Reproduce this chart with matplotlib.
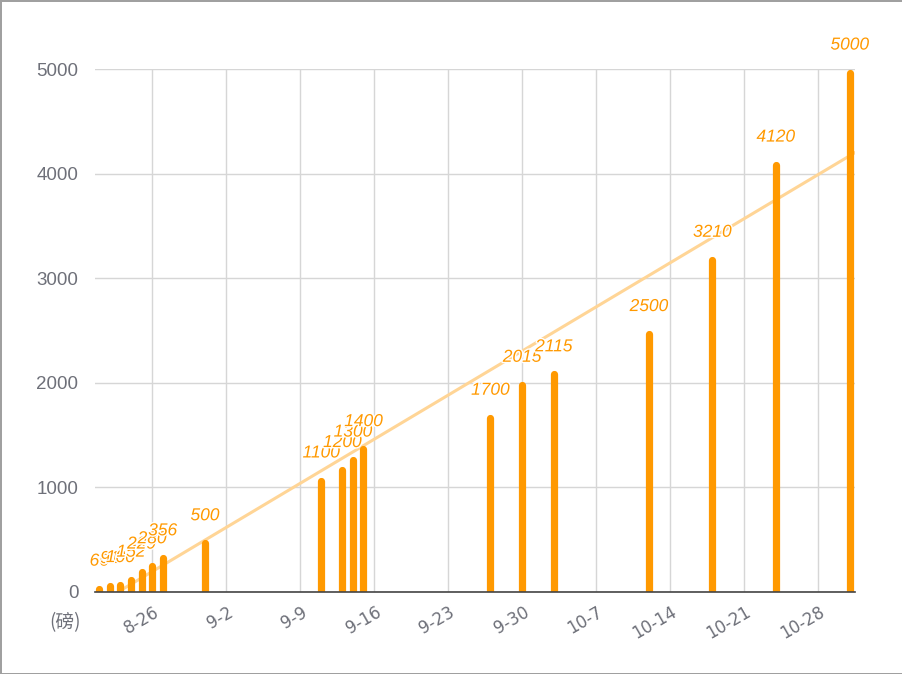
import numpy as np
import pandas as pd
import matplotlib
matplotlib.use("Agg")
import matplotlib.pyplot as plt
import matplotlib.dates as mdates
import matplotlib.transforms as mtransforms
import matplotlib.patheffects as pe

# weight log (pounds) per date
dates = ["2019-08-21", "2019-08-22", "2019-08-23", "2019-08-24", "2019-08-25",
         "2019-08-26", "2019-08-27", "2019-08-31", "2019-09-11", "2019-09-13",
         "2019-09-14", "2019-09-15", "2019-09-27", "2019-09-30", "2019-10-03",
         "2019-10-12", "2019-10-18", "2019-10-24", "2019-10-31"]
values = [66, 91, 100, 152, 229, 280, 356, 500, 1100, 1200,
          1300, 1400, 1700, 2015, 2115, 2500, 3210, 4120, 5000]
y_ticks = [0, 1000, 2000, 3000, 4000, 5000]
unit_label = "(磅)"

bar_color = "#ff9900"
trend_color = "#ffd596"
grid_color = "#d6d6d6"
text_gray = "#6e7079"

x = pd.to_datetime(dates)
xnum = mdates.date2num(x)
vals = np.array(values, dtype=float)

fig = plt.figure(figsize=(9.03, 6.74), dpi=100)
fig.patch.set_edgecolor("#a0a0a0")
fig.patch.set_linewidth(2)
ax = fig.add_axes([95 / 903, 82 / 674, 760 / 903, 523 / 674])

ax.set_xlim(xnum[0] - 0.4, xnum[-1] + 0.5)
ax.set_ylim(0, 5000)

# linear trend fitted to the points, spanning the whole axis
k, b = np.polyfit(xnum, vals, 1)
tx = np.array(ax.get_xlim())
ax.plot(tx, k * tx + b, color=trend_color, linewidth=2.2, zorder=2)

# bars with rounded tops; pull the line end down by the cap radius
bar_lw = 5.2
ax_h_px = ax.get_position().height * fig.get_figheight() * fig.dpi
cap = (bar_lw / 2 * fig.dpi / 72) * 5000 / ax_h_px
ax.vlines(xnum, 0, vals - cap, colors=bar_color, linewidth=bar_lw,
          capstyle="round", zorder=3)

for xi, v in zip(xnum, values):
    ax.annotate(str(v), (xi, v), xytext=(0, 14), textcoords="offset points",
                ha="center", va="baseline", color=bar_color, fontsize=12.5,
                family="Liberation Sans", style="italic", zorder=5,
                annotation_clip=False,
                path_effects=[pe.withStroke(linewidth=2, foreground="white")])

ax.set_yticks(y_ticks)
ax.xaxis.set_major_locator(mdates.WeekdayLocator(byweekday=mdates.MO))
ax.xaxis.set_major_formatter(plt.FuncFormatter(
    lambda v, pos: "{}-{}".format(mdates.num2date(v).month, mdates.num2date(v).day)))

ax.grid(True, color=grid_color, linewidth=1)
ax.set_axisbelow(True)
for s in ["top", "right", "left"]:
    ax.spines[s].set_visible(False)
ax.spines["bottom"].set_color("#444444")
ax.spines["bottom"].set_linewidth(1.2)
ax.spines["bottom"].set_zorder(4)

ax.tick_params(axis="y", length=0, pad=12, labelcolor=text_gray)
ax.tick_params(axis="x", length=0, pad=8, labelcolor=text_gray)
for lbl in ax.get_yticklabels():
    lbl.set_family("Liberation Sans")
    lbl.set_fontsize(13.5)

shift = mtransforms.ScaledTranslation(10 / 100, 0, fig.dpi_scale_trans)
for lbl in ax.get_xticklabels():
    lbl.set_rotation(30)
    lbl.set_ha("right")
    lbl.set_fontsize(12)
    lbl.set_transform(lbl.get_transform() + shift)

ax.text(-0.039, -0.059, unit_label, transform=ax.transAxes, ha="center",
        va="center", color=text_gray, fontsize=13.5,
        family=["Noto Sans CJK SC", "DejaVu Sans"])

plt.savefig("out.png", dpi=100)
